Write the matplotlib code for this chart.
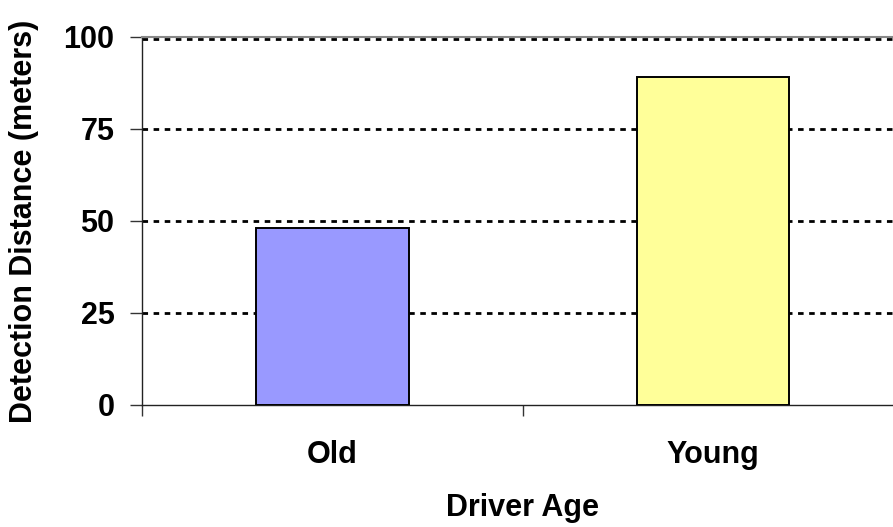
import numpy as np
import matplotlib.pyplot as plt

plt.rcParams['font.family'] = ['Liberation Sans', 'DejaVu Sans']
plt.rcParams['font.weight'] = 'bold'

categories = ['Old', 'Young']
distance = [48, 89]
colors = ['#9999FF', '#FFFF99']
yticks = [0, 25, 50, 75, 100]

fs = 22

fig = plt.figure(figsize=(8.93, 5.27), dpi=100)
ax = fig.add_axes([142.3/893, 1-405/527, 760.8/893, 368/527])

x = np.arange(len(categories))
ax.bar(x, distance, width=0.4, color=colors, edgecolor='black', linewidth=1.4, zorder=3)

ax.set_xlim(-0.5, 1.5)
ax.set_ylim(0, 100)
ax.set_yticks(yticks)
ax.set_yticklabels([str(v) for v in yticks], fontsize=fs, fontweight='bold')

# category boundary ticks, labels centred via minor ticks
ax.set_xticks([-0.5, 0.5, 1.5])
ax.set_xticklabels([])
ax.set_xticks(x, minor=True)
ax.set_xticklabels(categories, minor=True, fontsize=fs, fontweight='bold')
ax.tick_params(axis='x', which='minor', length=0, pad=25)
ax.tick_params(axis='x', which='major', length=8, width=1, color='#333333')
ax.tick_params(axis='y', length=9, width=1, color='#333333', pad=11)

for v in yticks[1:]:
    ax.axhline(v - 0.45 if v == 100 else v, color='black', lw=2,
               linestyle=(0, (2.0, 2.0)), zorder=1)

for s in ['left', 'bottom']:
    ax.spines[s].set_color('#222222')
    ax.spines[s].set_linewidth(1)
ax.spines['top'].set_color('#888888')
ax.spines['top'].set_linewidth(1.5)
ax.spines['right'].set_visible(False)

ax.set_xlabel('Driver Age', fontsize=fs, fontweight='bold', labelpad=17)
ax.set_ylabel('Detection Distance (meters)', fontsize=fs, fontweight='bold', labelpad=18)

fig.savefig('out.png', dpi=100)
